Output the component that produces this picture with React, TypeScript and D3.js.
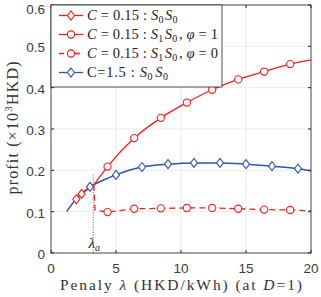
import * as d3 from "d3";

const blueLam = [1.2, 2, 3, 4, 5, 6, 7, 9, 11, 13, 15, 17, 19, 20];
const blueVal = [0.1, 0.133, 0.16, 0.176, 0.189, 0.2, 0.208, 0.215, 0.218, 0.218, 0.215, 0.21, 0.204, 0.199];
const blueMarks = [3, 5, 7, 9, 11, 13, 15, 17, 19];

const s0Lam = [1.9, 1.95, 2.35, 3.3];
const s0Val = [0.126, 0.13, 0.143, 0.165];
const s0Marks = [1.95, 2.35];

const phi1Lam = [3.3, 4.35, 6.4, 8.45, 10.45, 12.4, 14.4, 16.4, 18.4, 20];
const phi1Val = [0.165, 0.209, 0.278, 0.327, 0.364, 0.395, 0.42, 0.439, 0.457, 0.467];
const phi1Marks = [4.35, 6.4, 8.45, 10.45, 12.4, 14.4, 16.4, 18.4];

const phi0Lam = [3.3, 3.38, 4.35, 6.4, 8.45, 10.45, 12.4, 14.4, 16.4, 18.4, 20];
const phi0Val = [0.165, 0.104, 0.099, 0.107, 0.108, 0.109, 0.109, 0.107, 0.105, 0.104, 0.102];
const phi0Marks = [4.35, 6.4, 8.45, 10.45, 12.4, 14.4, 16.4, 18.4];

const lambdaA = 3.25;
const xTicks = [0, 5, 10, 15, 20];
const yTicks = [0, 0.1, 0.2, 0.3, 0.4, 0.5, 0.6];

const RED = "#ff1a1a";
const BLUE = "#2c55b4";
const TICK = "#3a3a3a";
const SERIF = "'Liberation Serif', 'DejaVu Serif', serif";
const SANS = "'Liberation Sans', Arial, sans-serif";

export default function App() {
  const left = 51, right = 311, top = 5, bottom = 253;
  const x = d3.scaleLinear().domain([0, 20]).range([left, right]);
  const y = d3.scaleLinear().domain([0, 0.6]).range([bottom, top]);

  const pts = (l: number[], v: number[]) => l.map((d, i) => [d, v[i]] as [number, number]);
  const smooth = d3.line<[number, number]>().x((d) => x(d[0])).y((d) => y(d[1])).curve(d3.curveMonotoneX);
  const straight = d3.line<[number, number]>().x((d) => x(d[0])).y((d) => y(d[1]));

  const diamond = (cx: number, cy: number, c: string, k: string) => (
    <path key={k} d={`M${cx},${cy - 4.5}L${cx + 3.5},${cy}L${cx},${cy + 4.5}L${cx - 3.5},${cy}Z`} fill="white" stroke={c} strokeWidth={1.1} />
  );
  const circle = (cx: number, cy: number, c: string, k: string) => (
    <circle key={k} cx={cx} cy={cy} r={3.6} fill="white" stroke={c} strokeWidth={1.1} />
  );

  const marks = (l: number[], v: number[], m: number[], kind: string, c: string) =>
    l.map((d, i) => (m.includes(d) ? (kind === "d" ? diamond(x(d), y(v[i]), c, kind + i) : circle(x(d), y(v[i]), c, kind + i)) : null));

  const legendRows = [
    { c: RED, kind: "d", dash: false, w: 92, label: [["C", true], [" = 0.15 : ", false], ["S", true, "0"], ["S", true, "0"]] },
    { c: RED, kind: "c", dash: false, w: 131, label: [["C", true], [" = 0.15 : ", false], ["S", true, "1"], ["S", true, "0"], [", ", false], ["φ", true], [" = 1", false]] },
    { c: RED, kind: "c", dash: true, w: 131, label: [["C", true], [" = 0.15 : ", false], ["S", true, "1"], ["S", true, "0"], [", ", false], ["φ", true], [" = 0", false]] },
    { c: BLUE, kind: "d", dash: false, w: 83, label: [["C=1.5 : ", false], ["S", true, "0"], ["S", true, "0"]] },
  ];

  return (
    <svg width={321} height={297} style={{ position: "absolute", left: 0, top: 0, background: "white" }}>
      <rect x={left} y={top} width={right - left} height={bottom - top} fill="white" />
      {xTicks.map((t) => (
        <line key={"gx" + t} x1={x(t)} x2={x(t)} y1={top} y2={bottom} stroke="#e6e6e6" strokeWidth={0.8} />
      ))}
      {yTicks.map((t) => (
        <line key={"gy" + t} x1={left} x2={right} y1={y(t)} y2={y(t)} stroke="#e6e6e6" strokeWidth={0.8} />
      ))}

      <line x1={x(lambdaA)} x2={x(lambdaA)} y1={bottom} y2={y(0.19)} stroke="#555" strokeWidth={0.9} strokeDasharray="1,1.5" />
      <text x={x(lambdaA) + 1} y={248} fontFamily={SERIF} fontStyle="italic" fontSize={15} textAnchor="middle" fill="#222">
        λ<tspan fontSize={10} dy={3}>a</tspan>
      </text>

      <path d={smooth(pts(blueLam, blueVal)) || ""} fill="none" stroke={BLUE} strokeWidth={1.5} />
      <path d={straight(pts(s0Lam, s0Val)) || ""} fill="none" stroke={RED} strokeWidth={1.3} />
      <path d={smooth(pts(phi1Lam, phi1Val)) || ""} fill="none" stroke={RED} strokeWidth={1.3} />
      <path d={straight(pts(phi0Lam, phi0Val)) || ""} fill="none" stroke={RED} strokeWidth={1.3} strokeDasharray="6,4" />

      {marks(blueLam, blueVal, blueMarks, "d", BLUE)}
      {marks(s0Lam, s0Val, s0Marks, "d", RED)}
      {marks(phi1Lam, phi1Val, phi1Marks, "c", RED)}
      {marks(phi0Lam, phi0Val, phi0Marks, "c", RED)}

      <rect x={left} y={top} width={right - left} height={bottom - top} fill="none" stroke="#262626" strokeWidth={0.8} />
      {xTicks.map((t) => (
        <g key={"tx" + t}>
          <line x1={x(t)} x2={x(t)} y1={bottom} y2={bottom - 3} stroke="#262626" />
          <line x1={x(t)} x2={x(t)} y1={top} y2={top + 3} stroke="#262626" />
          <text x={x(t)} y={273} textAnchor="middle" fontFamily={SANS} fontSize={13.5} fill={TICK}>{t}</text>
        </g>
      ))}
      {yTicks.map((t) => (
        <g key={"ty" + t}>
          <line x1={left} x2={left + 3} y1={y(t)} y2={y(t)} stroke="#262626" />
          <line x1={right} x2={right - 3} y1={y(t)} y2={y(t)} stroke="#262626" />
          <text x={45} y={Math.max(y(t) + 6, 14)} textAnchor="end" fontFamily={SANS} fontSize={13.5} fill={TICK}>{t === 0 ? "0" : t.toFixed(1)}</text>
        </g>
      ))}

      <g>
        <rect x={left} y={top} width={171} height={82} fill="white" stroke="#262626" strokeWidth={0.8} />
        {legendRows.map((r, i) => {
          const ly = 15.5 + i * 19;
          return (
            <g key={"lg" + i}>
              <line x1={59} x2={83} y1={ly} y2={ly} stroke={r.c} strokeWidth={1.3} strokeDasharray={r.dash ? "5,3" : undefined} />
              {r.kind === "d" ? diamond(71, ly, r.c, "ld" + i) : circle(71, ly, r.c, "lc" + i)}
              <text x={87} y={ly + 4.8} fontFamily={SERIF} fontSize={14.5} fill="#222" textLength={r.w} lengthAdjust="spacing">
                {r.label.map((p, j) => (
                  <tspan key={j} fontStyle={p[1] ? "italic" : "normal"}>
                    {p[0] as string}
                    {p[2] ? <tspan fontStyle="normal" fontSize={10} dy={3}>{p[2] as string}</tspan> : null}
                    {p[2] ? <tspan dy={-3}>{"\u200a"}</tspan> : null}
                  </tspan>
                ))}
              </text>
            </g>
          );
        })}
      </g>

      <text transform="translate(18,128) rotate(-90)" textAnchor="middle" fontFamily={SERIF} fontSize={16} fill="#333" textLength={133} lengthAdjust="spacing">
        profit (×10<tspan fontSize={11} dy={-6}>3</tspan><tspan dy={6}>HKD)</tspan>
      </text>
      <text x={181} y={290} textAnchor="middle" fontFamily={SERIF} fontSize={15.5} fill="#333" textLength={242} lengthAdjust="spacing">
        Penaly <tspan fontStyle="italic">λ</tspan> (HKD/kWh) (at <tspan fontStyle="italic">D</tspan>=1)
      </text>
    </svg>
  );
}
